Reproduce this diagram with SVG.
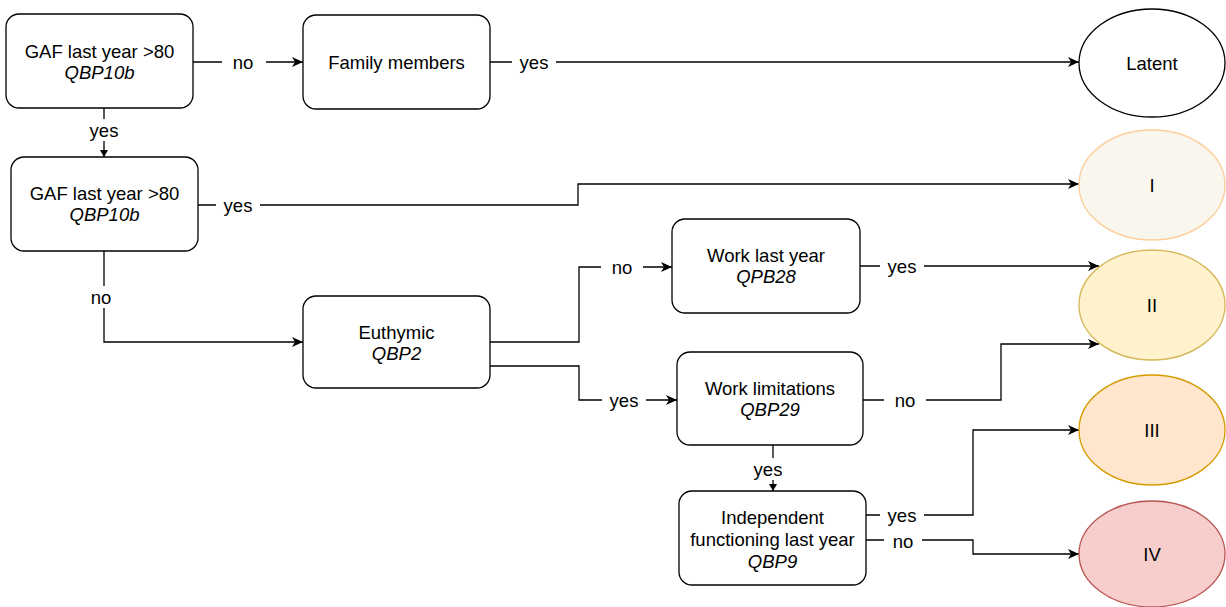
<svg xmlns="http://www.w3.org/2000/svg" width="1226" height="607" viewBox="0 0 1226 607">
<style>
.box{fill:#fff;stroke:#000;stroke-width:1.3}
.t{font-family:"Liberation Sans",Arial,sans-serif;font-size:18.5px;fill:#000;text-anchor:middle}
.i{font-style:italic}
.c{fill:none;stroke:#000;stroke-width:1.3}
.lb{fill:#fff}
</style>
<defs>
<marker id="a" markerWidth="12" markerHeight="10" refX="11" refY="5" orient="auto" markerUnits="userSpaceOnUse">
<path d="M0,0 L11,5 L0,10 L3,5 Z" fill="#000"/>
</marker>
<marker id="s" markerWidth="8" markerHeight="8" refX="7" refY="4" orient="auto" markerUnits="userSpaceOnUse">
<path d="M0,0 L7,4 L0,8 Z" fill="#000"/>
</marker>
</defs>
<g id="connectors">
<path class="c" d="M193,62 H303" marker-end="url(#a)"/>
<path class="c" d="M490,62 H1079" marker-end="url(#a)"/>
<path class="c" d="M104,108 V157" marker-end="url(#s)"/>
<path class="c" d="M198,205 H578 V184 H1079" marker-end="url(#a)"/>
<path class="c" d="M104,251 V342 H303" marker-end="url(#a)"/>
<path class="c" d="M490,342 H579 V267 H672" marker-end="url(#a)"/>
<path class="c" d="M490,366 H579 V400 H677" marker-end="url(#a)"/>
<path class="c" d="M860,266 H1099" marker-end="url(#a)"/>
<path class="c" d="M863,400 H1001 V344 H1099" marker-end="url(#a)"/>
<path class="c" d="M773,445 V491" marker-end="url(#s)"/>
<path class="c" d="M866,515 H973 V430 H1079" marker-end="url(#a)"/>
<path class="c" d="M866,540 H973 V554 H1079" marker-end="url(#a)"/>
<rect class="lb" x="222" y="51" width="44" height="22"/><text class="t" x="243" y="68.5">no</text>
<rect class="lb" x="512" y="51" width="44" height="22"/><text class="t" x="534" y="68.5">yes</text>
<rect class="lb" x="84" y="119" width="40" height="22"/><text class="t" x="104" y="136.5">yes</text>
<rect class="lb" x="216" y="194" width="44" height="22"/><text class="t" x="238" y="211.5">yes</text>
<rect class="lb" x="84" y="286" width="34" height="22"/><text class="t" x="101" y="303.5">no</text>
<rect class="lb" x="601" y="256" width="42" height="22"/><text class="t" x="622" y="273.5">no</text>
<rect class="lb" x="602" y="389" width="44" height="22"/><text class="t" x="624" y="406.5">yes</text>
<rect class="lb" x="880" y="255" width="44" height="22"/><text class="t" x="902" y="272.5">yes</text>
<rect class="lb" x="884" y="389" width="42" height="22"/><text class="t" x="905" y="406.5">no</text>
<rect class="lb" x="748" y="458" width="40" height="22"/><text class="t" x="768" y="475.5">yes</text>
<rect class="lb" x="880" y="504" width="44" height="22"/><text class="t" x="902" y="521.5">yes</text>
<rect class="lb" x="884" y="530" width="38" height="21"/><text class="t" x="903" y="547.5">no</text>
</g>
<g id="gaf1"><rect class="box" x="6" y="14" width="187" height="94" rx="13"/><text class="t" x="99.5" y="58">GAF last year &gt;80</text><text class="t i" x="99.5" y="79">QBP10b</text></g>
<g id="family"><rect class="box" x="303" y="15" width="187" height="94" rx="13"/><text class="t" x="396.5" y="69">Family members</text></g>
<g id="latent"><ellipse cx="1152" cy="63" rx="73" ry="54" fill="#fff" stroke="#000" stroke-width="1.3"/><text class="t" x="1152" y="69.5">Latent</text></g>
<g id="gaf2"><rect class="box" x="11" y="157" width="187" height="94" rx="13"/><text class="t" x="104.5" y="200">GAF last year &gt;80</text><text class="t i" x="104.5" y="221">QBP10b</text></g>
<g id="cls1"><ellipse cx="1152" cy="185" rx="73" ry="55" fill="#f9f7ed" stroke="#ffcc99" stroke-width="1.3"/><text class="t" x="1152" y="191.5">I</text></g>
<g id="euthymic"><rect class="box" x="303" y="296" width="187" height="92" rx="13"/><text class="t" x="396.5" y="339">Euthymic</text><text class="t i" x="396.5" y="360">QBP2</text></g>
<g id="work"><rect class="box" x="672" y="219" width="188" height="94" rx="13"/><text class="t" x="766" y="262">Work last year</text><text class="t i" x="766" y="283">QPB28</text></g>
<g id="worklim"><rect class="box" x="677" y="352" width="186" height="93" rx="13"/><text class="t" x="770" y="395">Work limitations</text><text class="t i" x="770" y="416">QBP29</text></g>
<g id="indep"><rect class="box" x="679" y="491" width="187" height="94" rx="13"/><text class="t" x="772.5" y="524">Independent</text><text class="t" x="772.5" y="546">functioning last year</text><text class="t i" x="772.5" y="568">QBP9</text></g>
<g id="cls2"><ellipse cx="1152" cy="305" rx="73" ry="55" fill="#fff2cc" stroke="#d6b656" stroke-width="1.3"/><text class="t" x="1152" y="311.5">II</text></g>
<g id="cls3"><ellipse cx="1152" cy="430" rx="73" ry="55" fill="#ffe6cc" stroke="#d79b00" stroke-width="1.3"/><text class="t" x="1152" y="436.5">III</text></g>
<g id="cls4"><ellipse cx="1152" cy="554" rx="73" ry="53" fill="#f8cecc" stroke="#b85450" stroke-width="1.3"/><text class="t" x="1152" y="560.5">IV</text></g>
</svg>
